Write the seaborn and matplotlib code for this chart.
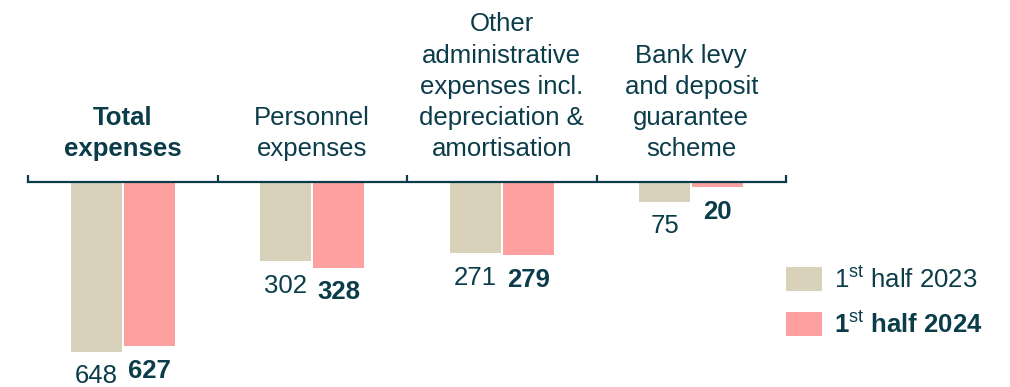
import matplotlib
matplotlib.use("Agg")
import matplotlib.pyplot as plt
from matplotlib.patches import Patch
import seaborn as sns
import pandas as pd

categories = ["Total\nexpenses", "Personnel\nexpenses",
              "Other\nadministrative\nexpenses incl.\ndepreciation &\namortisation",
              "Bank levy\nand deposit\nguarantee\nscheme"]
series_names = ["1st half 2023", "1st half 2024"]
legend_labels = ["1$^{\\mathrm{st}}$ half 2023", "1$^{\\mathrm{st}}$ half 2024"]
h1_2023 = [648, 302, 271, 75]
h1_2024 = [627, 328, 279, 20]

TEXT = "#0b3c4a"
COLORS = ["#d9d2bb", "#ffa0a0"]

sns.set_theme(style="white")
plt.rcParams["font.family"] = ["Liberation Sans", "DejaVu Sans"]
plt.rcParams["mathtext.fontset"] = "custom"
plt.rcParams["mathtext.rm"] = "Liberation Sans"
plt.rcParams["mathtext.bf"] = "Liberation Sans:bold"

df = pd.DataFrame({
    "category": categories * 2,
    "period": [series_names[0]] * 4 + [series_names[1]] * 4,
    "value": h1_2023 + h1_2024,
})

fig = plt.figure(figsize=(10.10, 3.87), dpi=100)
ax = fig.add_axes([28 / 1010, 0, (786 - 28) / 1010, 205 / 387])

sns.barplot(data=df, x="category", y="value", hue="period", order=categories,
            hue_order=series_names, palette=COLORS, width=0.56, gap=0.04,
            linewidth=0, saturation=1, legend=False, ax=ax)

ax.set_xlim(-0.5, len(categories) - 0.5)
ax.set_ylim(782, 0)
ax.set_xlabel("")
ax.set_ylabel("")
ax.set_yticks([])

for s in ["left", "right", "bottom"]:
    ax.spines[s].set_visible(False)
ax.spines["top"].set_color(TEXT)
ax.spines["top"].set_linewidth(1.6)

ax.xaxis.tick_top()
ax.set_xticks([i - 0.5 for i in range(len(categories) + 1)])
ax.set_xticklabels([])
ax.set_xticks(range(len(categories)), minor=True)
ax.set_xticklabels(categories, minor=True)
ax.tick_params(axis="x", which="major", direction="out", length=5, width=1.6,
               color=TEXT, top=True, bottom=False)
ax.tick_params(axis="x", which="minor", length=0, pad=15, labelsize=18.5,
               labelcolor=TEXT, top=True, bottom=False)
for i, lbl in enumerate(ax.get_xticklabels(minor=True)):
    lbl.set_linespacing(1.38)
    if i == 0:
        lbl.set_fontweight("bold")

for ci, cont in enumerate(ax.containers):
    ax.bar_label(cont, fmt="%d", padding=9, fontsize=18.5, color=TEXT,
                 fontweight="bold" if ci == 1 else "normal")

handles = [Patch(facecolor=c, edgecolor="none") for c in COLORS]
leg = fig.legend(handles, legend_labels, loc="upper left",
                 bbox_to_anchor=(786 / 1010, 1 - 266 / 387), frameon=False,
                 fontsize=18.5, handlelength=1.4, handleheight=1.05,
                 handletextpad=0.45, labelspacing=0.72, borderpad=0,
                 borderaxespad=0)
for i, t in enumerate(leg.get_texts()):
    t.set_color(TEXT)
    if i == 1:
        t.set_fontweight("bold")

fig.savefig("out.png", dpi=100)
